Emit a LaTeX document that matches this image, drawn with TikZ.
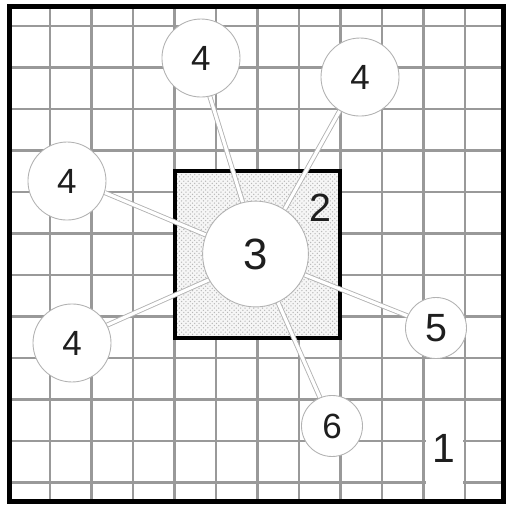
\documentclass[tikz,border=0pt]{standalone}
\usepackage{fontspec}
\setmainfont{Liberation Sans}
\usetikzlibrary{backgrounds,patterns}
\definecolor{GridGray}{HTML}{999999}
\definecolor{RimGray}{HTML}{B2B2B2}
\definecolor{InkGray}{HTML}{1E1E1E}
\definecolor{SoilGray}{HTML}{F6F6F6}
\tikzset{
  gridline/.style={draw=GridGray,line width=1.4pt},
  wall/.style={draw=black,line width=3.4pt},
  pot/.style={circle,draw=RimGray,line width=0.6pt,fill=white,inner sep=0pt,text=InkGray},
  bigpot/.style={pot,minimum size=2.55cm,font=\fontsize{30}{30}\selectfont},
  midpot/.style={pot,minimum size=1.88cm,font=\fontsize{24}{24}\selectfont},
  smallpot/.style={pot,minimum size=1.47cm,font=\fontsize{24}{24}\selectfont},
  tie/.style={draw=RimGray,line width=0.6pt,double=white,double distance=2.2pt},
  tag/.style={text=InkGray,inner sep=0pt}
}

\begin{document}
\begin{tikzpicture}
  \useasboundingbox (0,0) rectangle (12.193,12.169);

  % planting pits
  \node[bigpot] (centre) at (6.157,6.048) {3};
  \node[midpot] (pitA) at (4.843,10.771) {4};
  \node[midpot] (pitB) at (8.675,10.313) {4};
  \node[midpot] (pitC) at (1.614,7.807) {4};
  \node[midpot] (pitD) at (1.735,3.904) {4};
  \node[smallpot,font=\fontsize{27}{27}\selectfont] (pitE) at (10.506,4.265) {5};
  \node[smallpot] (pitF) at (8.0,1.904) {6};

  \node[tag,font=\fontsize{27}{27}\selectfont] (bed) at (7.711,7.157) {2};
  \node[tag,fill=white,anchor=base,minimum width=0.9cm,text height=1.06cm,text depth=0.94cm,
        font=\fontsize{28}{28}\selectfont] (field) at (10.705,1.036) {1};

  \begin{scope}[on background layer]
    \foreach \k in {0,...,10}
      \draw[gridline] ({1.205+\k},0.096) -- ({1.205+\k},12.012);
    \foreach \k in {0,...,11}
      \draw[gridline] (0.229,{0.542+\k}) -- (12.133,{0.542+\k});
    \draw[wall,preaction={fill=SoilGray},pattern=crosshatch dots,pattern color=black!28]
      (4.217,4.024) rectangle (8.193,8.048);
    \draw[tie] (pitA.283) -- (centre.104);
    \draw[tie] (pitB.239) -- (centre.57);
    \draw[tie] (pitC.343) -- (centre.159);
    \draw[tie] (pitD.27) -- (centre.209);
    \draw[tie] (pitE.157) -- (centre.337);
    \draw[tie] (pitF.113) -- (centre.295);
  \end{scope}

  \draw[wall] (0.229,0.096) rectangle (12.133,12.012);
\end{tikzpicture}
\end{document}
